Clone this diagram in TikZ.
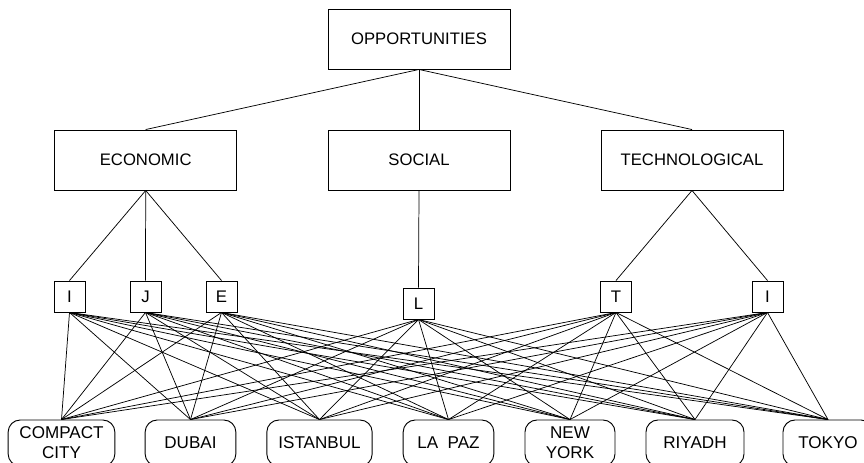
\documentclass[tikz,border=0pt]{standalone}
\usepackage{fontspec}
\setmainfont{Liberation Sans}
\usepackage{tikz}
\usetikzlibrary{positioning}

\tikzset{
  bigbox/.style={draw, line width=0.7pt, minimum width=136.5pt, minimum height=45pt, inner sep=0pt, font=\fontsize{12.5}{14}\selectfont},
  letterbox/.style={draw, line width=0.7pt, minimum width=23.25pt, minimum height=23.25pt, inner sep=0pt, font=\fontsize{12.6}{14}\selectfont},
  citybox/.style={draw, line width=0.7pt, rounded corners=9pt, minimum height=34.5pt, inner sep=0pt, align=center, font=\fontsize{12.8}{15}\selectfont},
  link/.style={line width=0.55pt}
}

\begin{document}
\begin{tikzpicture}[x=0.75pt,y=0.75pt,yscale=-1,xscale=1]
\useasboundingbox (0,0) rectangle (864,462);
\clip (0,0) rectangle (864,462);

%Shape: Rectangle [top]
\node[bigbox] (opp) at (419,39) {OPPORTUNITIES};
%Shape: Rectangle [middle row]
\node[bigbox] (econ) at (145.7,160) {ECONOMIC};
\node[bigbox] (soc) at (419,160) {SOCIAL};
\node[bigbox] (tech) at (692,160) {TECHNOLOGICAL};

%Shape: Square [criteria]
\node[letterbox] (ei) at (69.5,296.5) {I};
\node[letterbox] (ej) at (145.5,296.5) {J};
\node[letterbox] (ee) at (221.5,296.5) {E};
\node[letterbox] (sl) at (418.5,303.5) {L};
\node[letterbox] (tt) at (616,296.5) {T};
\node[letterbox] (ti) at (767.5,296.5) {I};

%Shape: Rounded Rectangle [cities]
\node[citybox, minimum width=80pt] (cc) at (61.5,443) {COMPACT\\CITY};
\node[citybox, minimum width=68pt] (dubai) at (190.5,443) {DUBAI};
\node[citybox, minimum width=79pt] (istanbul) at (319.5,443) {ISTANBUL};
\node[citybox, minimum width=68pt] (lapaz) at (448.5,443) {LA\ \ PAZ};
\node[citybox, minimum width=67.5pt] (newyork) at (570,443) {NEW\\YORK};
\node[citybox, minimum width=73.5pt] (riyadh) at (695,443) {RIYADH};
\node[citybox, minimum width=67.5pt] (tokyo) at (828,443) {TOKYO};

% Lines
\draw[link] (opp.south) -- (econ.north);
\draw[link] (opp.south) -- (soc.north);
\draw[link] (opp.south) -- (tech.north);
\draw[link] (econ.south) -- (ei.north);
\draw[link] (econ.south) -- (ej.north);
\draw[link] (econ.south) -- (ee.north);
\draw[link] (soc.south) -- (sl.north);
\draw[link] (tech.south) -- (tt.north);
\draw[link] (tech.south) -- (ti.north);

\foreach \crit in {ei,ej,ee,sl,tt,ti}
  \foreach \city in {cc,dubai,istanbul,lapaz,newyork,riyadh,tokyo}
    \draw[link] (\crit.south) -- (\city.north);

\end{tikzpicture}
\end{document}
